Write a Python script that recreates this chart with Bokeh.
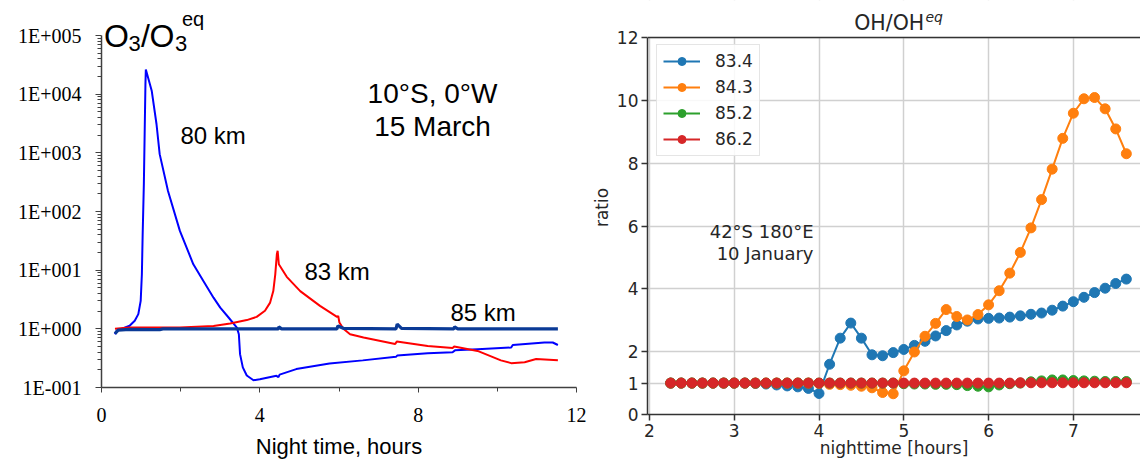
from bokeh.plotting import figure
from bokeh.layouts import row, column
from bokeh.models import FixedTicker, Label, Span, BoxAnnotation
from bokeh.embed import file_html
from bokeh.resources import INLINE

# ---------------- Left panel data: O3/O3eq, 10S 0W, 15 March ----------------
t_80km = [0.34, 0.38, 0.55, 0.71, 0.84, 0.93, 0.99, 1.02, 1.04, 1.07, 1.09, 1.11, 1.12,
          1.27, 1.39, 1.47, 1.68, 1.98, 2.32, 2.57, 2.83, 3.0, 3.21, 3.42, 3.47, 3.5,
          3.57, 3.67, 3.84, 4.0, 4.42, 4.47, 4.5, 4.92, 5.76, 6.6, 7.44, 7.47, 8.24,
          8.87, 8.93, 9.5, 10.35, 10.39, 11.19, 11.4, 11.53]
v_80km = [0.81, 0.92, 1.03, 1.13, 1.37, 1.78, 3.0, 8.5, 41, 293, 2080, 14700, 26300,
          11300, 3070, 950, 224, 46.7, 12.6, 6.6, 3.4, 2.3, 1.56, 1.05, 0.81, 0.37,
          0.22, 0.16, 0.133, 0.138, 0.158, 0.15, 0.166, 0.206, 0.257, 0.29, 0.333, 0.35, 0.385,
          0.40, 0.43, 0.45, 0.48, 0.53, 0.585, 0.585, 0.53]

t_83km = [0.34, 0.71, 1.98, 2.83, 3.25, 3.67, 3.92, 4.13, 4.26, 4.34, 4.39, 4.43, 4.45,
          4.48, 4.68, 5.02, 5.52, 5.95, 5.98, 6.01, 6.11, 6.28, 6.62, 7.42, 7.46, 8.24,
          8.87, 8.91, 9.5, 10.09, 10.35, 10.69, 10.98, 11.53]
v_83km = [1.0, 1.05, 1.05, 1.12, 1.23, 1.41, 1.6, 2.03, 2.8, 4.4, 8.5, 18.7, 21.4,
          12.6, 7.7, 4.4, 2.46, 1.6, 1.66, 1.28, 1.0, 0.81, 0.71, 0.55, 0.61, 0.51,
          0.47, 0.50, 0.42, 0.29, 0.26, 0.27, 0.305, 0.29]

t_85km = [0.34, 0.42, 0.71, 1.47, 1.55, 4.47, 4.48, 4.55, 5.95, 5.97, 6.11, 7.44, 7.47,
          7.58, 8.9, 8.92, 9.0, 11.53]
v_85km = [0.83, 0.95, 0.98, 0.97, 1.0, 1.0, 1.08, 1.0, 1.0, 1.12, 1.02, 1.0, 1.2,
          1.02, 1.0, 1.08, 1.0, 1.0]

o3_x_ticks = [0, 4, 8, 12]
o3_x_minor = [2, 6, 10]
o3_y_ticks = [0.1, 1.0, 10.0, 100.0, 1000.0, 10000.0, 100000.0]
o3_y_labels = ["1E-001", "1E+000", "1E+001", "1E+002", "1E+003", "1E+004", "1E+005"]

# ---------------- Right panel data: OH/OHeq, 42S 180E, 10 January ----------------
oh_time = [2.25, 2.375, 2.5, 2.625, 2.75, 2.875, 3.0, 3.125, 3.25, 3.375, 3.5, 3.625,
           3.75, 3.875, 4.0, 4.125, 4.25, 4.375, 4.5, 4.625, 4.75, 4.875, 5.0, 5.125,
           5.25, 5.375, 5.5, 5.625, 5.75, 5.875, 6.0, 6.125, 6.25, 6.375, 6.5, 6.625,
           6.75, 6.875, 7.0, 7.125, 7.25, 7.375, 7.5, 7.625]
oh_83_4 = [1.0, 1.0, 1.0, 1.0, 1.0, 1.0, 1.0, 1.0, 0.99, 0.97, 0.94, 0.91,
           0.88, 0.83, 0.67, 1.6, 2.43, 2.91, 2.43, 1.9, 1.87, 1.97, 2.07, 2.2,
           2.33, 2.5, 2.67, 2.85, 2.97, 3.04, 3.06, 3.07, 3.1, 3.14, 3.19, 3.23,
           3.32, 3.45, 3.59, 3.73, 3.88, 4.02, 4.17, 4.31]
oh_84_3 = [1.0, 1.0, 1.0, 1.0, 1.0, 1.0, 1.0, 1.0, 1.0, 1.0, 1.0, 1.0,
           1.0, 1.0, 0.99, 0.96, 0.95, 0.93, 0.9, 0.85, 0.7, 0.66, 1.39, 1.99,
           2.49, 2.9, 3.34, 3.12, 3.01, 3.18, 3.49, 3.94, 4.5, 5.16, 5.94, 6.84,
           7.81, 8.79, 9.59, 10.05, 10.09, 9.73, 9.09, 8.3]
oh_85_2 = [1.0, 1.0, 1.0, 1.0, 1.0, 1.0, 1.0, 1.0, 1.0, 1.0, 1.0, 1.0,
           1.0, 1.0, 1.0, 1.0, 1.0, 1.0, 1.0, 1.0, 1.0, 1.0, 0.98, 0.97,
           0.97, 0.96, 0.96, 0.95, 0.92, 0.9, 0.88, 0.94, 0.98, 1.0, 1.04, 1.07,
           1.1, 1.1, 1.08, 1.07, 1.06, 1.05, 1.05, 1.05]
oh_86_2 = [1.0, 1.0, 1.0, 1.0, 1.0, 1.0, 1.0, 1.0, 1.0, 1.0, 1.0, 1.0,
           1.0, 1.0, 1.0, 1.0, 1.0, 1.0, 1.0, 1.0, 1.0, 1.0, 1.0, 1.0,
           1.0, 1.0, 1.0, 1.0, 1.0, 1.0, 1.0, 1.0, 1.0, 1.01, 1.01, 1.01,
           1.01, 1.01, 1.01, 1.01, 1.01, 1.01, 1.01, 1.01]
oh_series = ["83.4", "84.3", "85.2", "86.2"]
oh_x_ticks = [2, 3, 4, 5, 6, 7]
oh_y_ticks = [0, 1, 2, 4, 6, 8, 10, 12]

# =========================== Left figure ===========================
SANS = "Liberation Sans"
SERIF = "Liberation Serif"

# frame reaches the top of the canvas so the title can sit above 1E+005
left = figure(width=588, height=461, x_range=(0, 12), y_range=(0.1, 10 ** 5.5966),
              y_axis_type="log", output_backend="svg", toolbar_location=None,
              min_border_left=101, min_border_right=12, min_border_top=0,
              min_border_bottom=74)
left.outline_line_color = None
left.grid.visible = False
left.background_fill_color = "white"
left.border_fill_color = "white"

left.line(t_80km, v_80km, line_color="#0000ff", line_width=2)
left.line(t_83km, v_83km, line_color="#ff0000", line_width=2)
left.line(t_85km, v_85km, line_color="#0a3a96", line_width=3.2)

xa = left.xaxis[0]
xa.ticker = FixedTicker(ticks=o3_x_ticks, minor_ticks=o3_x_minor)
xa.axis_line_color = "#404040"
xa.axis_line_width = 1.5
xa.major_tick_line_color = "#404040"
xa.minor_tick_line_color = "#404040"
xa.major_tick_in = 0
xa.major_tick_out = 5
xa.minor_tick_in = 0
xa.minor_tick_out = 4
xa.major_label_text_font = SERIF
xa.major_label_text_font_size = "20px"
xa.major_label_text_color = "black"
xa.major_label_standoff = 15
xa.axis_label = "Night time, hours"
xa.axis_label_text_font = SANS
xa.axis_label_text_font_size = "22px"
xa.axis_label_text_font_style = "normal"
xa.axis_label_text_color = "black"
xa.axis_label_standoff = 9

minor_log = [k * 10.0 ** e for e in range(-1, 5) for k in range(2, 10)]
ya = left.yaxis[0]
ya.ticker = FixedTicker(ticks=o3_y_ticks, minor_ticks=minor_log)
ya.major_label_overrides = dict(zip(o3_y_ticks, o3_y_labels))
ya.bounds = (o3_y_ticks[0], o3_y_ticks[-1])
ya.axis_line_color = "#404040"
ya.axis_line_width = 1.5
ya.major_tick_line_color = "#404040"
ya.minor_tick_line_color = "#404040"
ya.major_tick_in = 0
ya.major_tick_out = 6
ya.minor_tick_in = 0
ya.minor_tick_out = 4
ya.major_label_text_font = SERIF
ya.major_label_text_font_size = "20px"
ya.major_label_text_color = "black"
ya.major_label_standoff = 14

def slabel(fig, x, y, text, size, font=SANS, align="left", style="normal", color="black"):
    fig.add_layout(Label(x=x, y=y, x_units="screen", y_units="screen", text=text,
                         text_font=font, text_font_size=size, text_align=align,
                         text_baseline="alphabetic", text_font_style=style,
                         text_color=color, level="overlay"))

# title O3/O3^eq
slabel(left, 2.5, 352, "O", "32px")
slabel(left, 27, 344, "3", "22px")
slabel(left, 39.5, 352, "/", "32px")
slabel(left, 48, 352, "O", "32px")
slabel(left, 73.5, 344, "3", "22px")
slabel(left, 80.5, 369, "eq", "20px")

slabel(left, 331, 294, "10°S, 0°W", "28px", align="center")
slabel(left, 331, 261, "15 March", "28px", align="center")
slabel(left, 79, 252, "80 km", "24px")
slabel(left, 203, 116, "83 km", "24px")
slabel(left, 349, 75, "85 km", "24px")

# =========================== Right figure ===========================
DV = "DejaVu Sans"
right = figure(width=552, height=461, x_range=(1.977, 7.792), y_range=(0, 13.178),
               output_backend="svg", toolbar_location=None,
               min_border_left=56, min_border_right=0, min_border_top=0,
               min_border_bottom=47)
right.outline_line_color = None
right.background_fill_color = "white"
right.border_fill_color = "white"

colors = ["#1f77b4", "#ff7f0e", "#2ca02c", "#d62728"]
for ys, name, c in zip([oh_83_4, oh_84_3, oh_85_2, oh_86_2], oh_series, colors):
    right.line(oh_time, ys, line_color=c, line_width=2, legend_label=name)
    right.scatter(oh_time, ys, size=10, fill_color=c, line_color=c, legend_label=name)

y_top = oh_y_ticks[-1]
# blank strip above the axes box (title area)
right.add_layout(BoxAnnotation(bottom=y_top, fill_color="white", fill_alpha=1.0,
                               line_color=None))
right.add_layout(Span(location=y_top, dimension="width", line_color="#333333", line_width=1.5))

for ax, ticks in ((right.xaxis[0], oh_x_ticks), (right.yaxis[0], oh_y_ticks)):
    ax.ticker = FixedTicker(ticks=ticks)
    ax.axis_line_color = "#333333"
    ax.axis_line_width = 1.5
    ax.major_tick_line_color = "#333333"
    ax.major_tick_line_width = 1.5
    ax.major_tick_in = 0
    ax.major_tick_out = 6
    ax.minor_tick_line_color = None
    ax.major_label_text_font = DV
    ax.major_label_text_font_size = "17px"
    ax.major_label_text_color = "#262626"
    ax.major_label_standoff = 3
    ax.axis_label_text_font = DV
    ax.axis_label_text_font_size = "17px"
    ax.axis_label_text_font_style = "normal"
    ax.axis_label_text_color = "#262626"

right.yaxis[0].bounds = (oh_y_ticks[0], y_top)
right.yaxis[0].axis_label = "ratio"
right.yaxis[0].axis_label_standoff = 2
right.xaxis[0].axis_label = "nighttime [hours]"
right.xaxis[0].axis_label_standoff = -2

right.grid.grid_line_color = "#d0d0d0"
right.grid.grid_line_width = 1.5

slabel(right, 206.7, 392, "OH/OH", "20.5px", font=DV, color="#262626")
slabel(right, 278, 398, "eq", "14px", font=DV, style="italic", color="#262626")
slabel(right, 166, 183.5, "42°S 180°E", "18px", font=DV, align="right", color="#262626")
slabel(right, 166, 161.3, "10 January", "18px", font=DV, align="right", color="#262626")

lg = right.legend[0]
lg.location = (9, 258)
lg.padding = 6
lg.spacing = 6
lg.glyph_width = 37
lg.glyph_height = 20
lg.label_height = 20
lg.label_standoff = 15
lg.label_text_font = DV
lg.label_text_font_size = "17px"
lg.label_text_color = "#262626"
lg.border_line_color = "#cccccc"
lg.border_line_width = 1.2
lg.background_fill_alpha = 0.85

layout = row(column(left), column(right))
open("out.html", "w").write(file_html(layout, INLINE))
